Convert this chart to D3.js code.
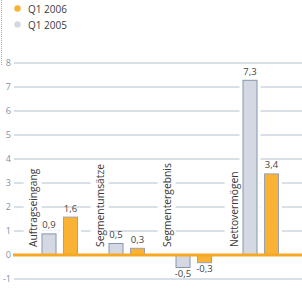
<!DOCTYPE html>
<html><head><meta charset="utf-8">
<script src="https://cdn.jsdelivr.net/npm/d3@7"></script>
<style>body{margin:0;background:#fff;}svg{display:block;font-family:"Open Sans",sans-serif;}</style>
</head><body>
<svg id="c" width="302" height="288"></svg>
<script>
const categories = ["Auftragseingang","Segmentumsätze","Segmentergebnis","Nettovermögen"];
const seriesNames = ["Q1 2005","Q1 2006"];
const q1_2005 = [0.9, 0.5, -0.5, 7.3];
const q1_2006 = [1.6, 0.3, -0.3, 3.4];
const yTicks = [-1,0,1,2,3,4,5,6,7,8];
const legendOrder = ["Q1 2006","Q1 2005"];

const colors = {"Q1 2005":"#d3d8e2","Q1 2006":"#f9b233"};
const svg = d3.select("#c");
const y = d3.scaleLinear().domain([-1,8]).range([279,63]);
const x0 = d3.scaleBand().domain(categories).range([22,290]);
const x1 = d3.scaleBand().domain(seriesNames).range([19.5,56]).paddingInner(0.3);
const fmt = v => d3.format(".1f")(v).replace(".",",").replace("−","-");

// dotted line
svg.append("line").attr("x1",1.5).attr("x2",1.5).attr("y1",0).attr("y2",66)
  .attr("stroke","#9aaac0").attr("stroke-dasharray","1,1");

// legend
const lg = svg.append("g");
legendOrder.forEach((s,i)=>{
  lg.append("circle").attr("cx",17.5).attr("cy",8.5+16*i).attr("r",3.2).attr("fill",colors[s]);
  lg.append("text").attr("x",28).attr("y",12.5+16*i).attr("font-size",10).attr("fill","#3c3c3c").text(s);
});

// grid + ticks
const grid = svg.append("g");
yTicks.forEach(t=>{
  grid.append("text").attr("x",11).attr("y",y(t)).attr("dy","0.35em").attr("text-anchor","end")
    .attr("font-size",9).attr("fill","#8391a8").text(t);
  if(t!==0) grid.append("line").attr("x1",14).attr("x2",302).attr("y1",y(t)).attr("y2",y(t))
    .attr("stroke","#b4c0d0").attr("stroke-width",1);
});

const series = seriesNames.map(s=>({name:s, values: s==="Q1 2005"?q1_2005:q1_2006}));
const data = [];
categories.forEach((c,i)=>series.forEach(s=>data.push({cat:c, s:s.name, v:s.values[i]})));

// white halos behind bars
svg.append("g").selectAll("rect").data(data).join("rect")
  .attr("x",d=>x0(d.cat)+x1(d.s)-3).attr("width",x1.bandwidth()+6)
  .attr("y",d=>Math.min(y(d.v),y(0))-3).attr("height",d=>Math.abs(y(d.v)-y(0))+6)
  .attr("fill","#fff");

// category labels with white background
const lab = svg.append("g").selectAll("g").data(categories).join("g")
  .attr("transform",d=>`translate(${x0(d)+11},247) rotate(-90)`);
const lt = lab.append("text").attr("dy","0.35em").attr("font-size",10.3).attr("fill","#3c3c3c").text(d=>d);
lab.each(function(){
  const t = d3.select(this).select("text");
  const b = t.node().getBBox();
  d3.select(this).insert("rect","text").attr("x",b.x-2).attr("y",b.y-2).attr("width",b.width+4).attr("height",b.height+4).attr("fill","#fff");
});

// bars
svg.append("g").selectAll("rect").data(data).join("rect")
  .attr("x",d=>x0(d.cat)+x1(d.s)+0.5).attr("width",x1.bandwidth()-1)
  .attr("y",d=>Math.min(y(d.v),y(0))+0.5).attr("height",d=>Math.abs(y(d.v)-y(0)))
  .attr("fill",d=>colors[d.s]).attr("stroke",d=>d.s==="Q1 2005"?"#8595b0":"#9aa2b2").attr("stroke-width",1);

// zero line
svg.append("line").attr("x1",13).attr("x2",302).attr("y1",y(0)).attr("y2",y(0))
  .attr("stroke","#f7a823").attr("stroke-width",3);

// value labels
svg.append("g").selectAll("text").data(data).join("text")
  .attr("x",d=>x0(d.cat)+x1(d.s)+x1.bandwidth()/2)
  .attr("y",d=>d.v>=0? y(d.v)-5 : y(d.v)+10)
  .attr("text-anchor","middle").attr("font-size",9.5).attr("fill","#444").text(d=>fmt(d.v));
</script>
</body></html>
